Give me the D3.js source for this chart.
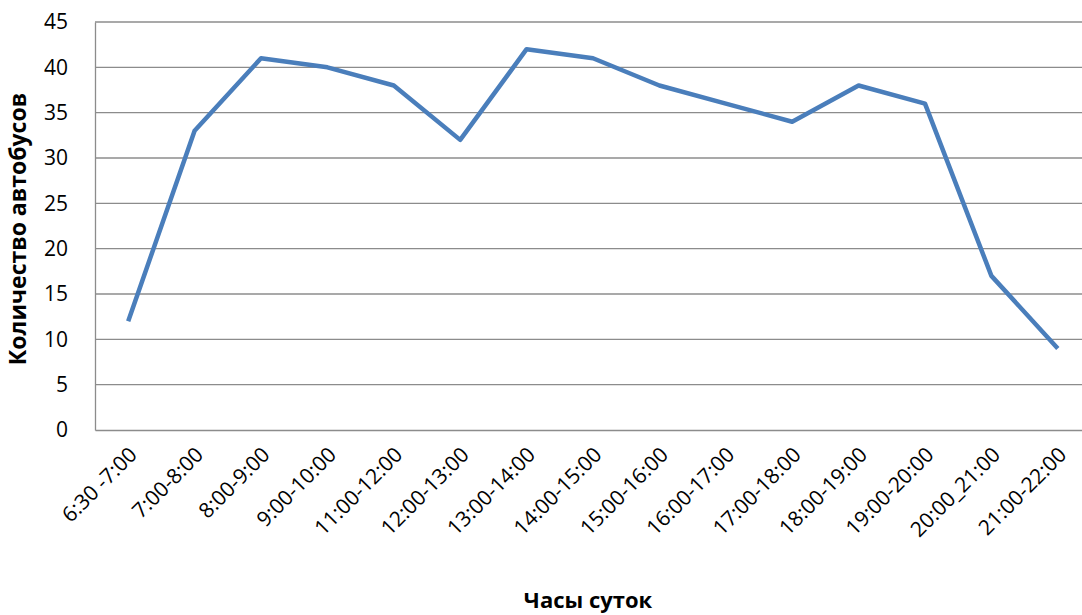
<!DOCTYPE html>
<html>
<head>
<meta charset="utf-8">
<script src="https://cdn.jsdelivr.net/npm/d3@7"></script>
<style>
  body { margin: 0; background: #fff; }
  svg { display: block; }
  svg text { font-family: "Open Sans", Lato, sans-serif; }
</style>
</head>
<body>
<svg id="chart" width="1082" height="615"></svg>
<script>
// data
var hours = ["6:30 -7:00", "7:00-8:00", "8:00-9:00", "9:00-10:00", "11:00-12:00", "12:00-13:00",
  "13:00-14:00", "14:00-15:00", "15:00-16:00", "16:00-17:00", "17:00-18:00", "18:00-19:00",
  "19:00-20:00", "20:00_21:00", "21:00-22:00"];
var buses = [12, 33, 41, 40, 38, 32, 42, 41, 38, 36, 34, 38, 36, 17, 9];
var yTicks = [0, 5, 10, 15, 20, 25, 30, 35, 40, 45];

var svg = d3.select("#chart");
var margin = { top: 22, left: 95 };
var plotWidth = 996;   // runs a bit past the right edge, like the original
var plotHeight = 408;

var g = svg.append("g")
  .attr("transform", "translate(" + margin.left + "," + margin.top + ")");

// scales
var xScale = d3.scaleBand()
  .domain(hours)
  .range([0, plotWidth]);
var yScale = d3.scaleLinear()
  .domain([0, 45])
  .range([plotHeight, 0]);

// gridlines
g.selectAll(".grid")
  .data(yTicks.slice(1))
  .enter().append("line")
  .attr("class", "grid")
  .attr("x1", 0)
  .attr("x2", plotWidth)
  .attr("y1", d => yScale(d))
  .attr("y2", d => yScale(d))
  .attr("stroke", "#8c8c8c")
  .attr("stroke-width", 1.3);

// y axis
var yAxis = d3.axisLeft(yScale).tickValues(yTicks).tickSize(0).tickPadding(27);
var yG = g.append("g").call(yAxis).attr("font-family", null).attr("font-size", null);
yG.select(".domain").attr("stroke", "#8c8c8c").attr("stroke-width", 1.3);
yG.selectAll("text").style("font-size", "21px").attr("fill", "#000");

// x axis
var xAxis = d3.axisBottom(xScale).tickSize(0).tickPadding(0);
var xG = g.append("g")
  .attr("transform", "translate(0," + plotHeight + ")")
  .call(xAxis)
  .attr("font-family", null).attr("font-size", null);
xG.select(".domain").attr("stroke", "#8c8c8c").attr("stroke-width", 1.3);
xG.selectAll("text")
  .style("font-size", "21px")
  .attr("fill", "#000")
  .attr("text-anchor", "end")
  .attr("dy", null)
  .attr("y", 0)
  .attr("transform", "translate(10,26) rotate(-45)");

// line
var line = d3.line()
  .x((d, i) => xScale(hours[i]) + xScale.bandwidth() / 2)
  .y(d => yScale(d));

g.append("path")
  .datum(buses)
  .attr("fill", "none")
  .attr("stroke", "#4a7ebb")
  .attr("stroke-width", 4.5)
  .attr("stroke-linejoin", "round")
  .attr("d", line);

// axis titles
svg.append("text")
  .attr("x", 588)
  .attr("y", 608)
  .style("font-size", "22px")
  .attr("font-weight", "bold")
  .attr("text-anchor", "middle")
  .text("Часы суток");

svg.append("text")
  .attr("transform", "translate(26,229) rotate(-90)")
  .style("font-size", "23px")
  .attr("font-weight", "bold")
  .attr("text-anchor", "middle")
  .text("Количество автобусов");
</script>
</body>
</html>
